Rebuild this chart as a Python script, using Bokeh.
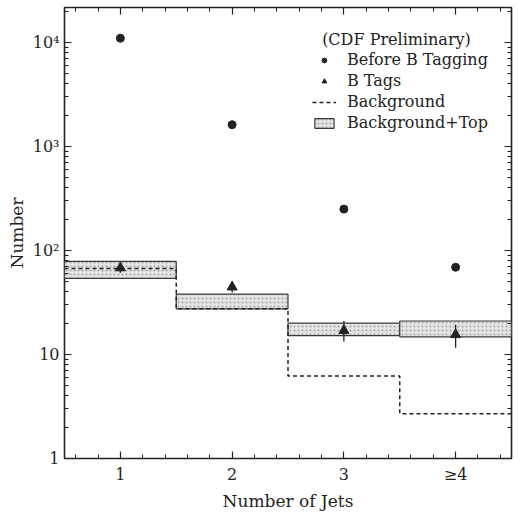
import numpy as np
from bokeh.plotting import figure
from bokeh.models import (FixedTicker, LinearAxis, LogAxis, Range1d, Legend,
                          LegendItem)
from bokeh.embed import file_html
from bokeh.resources import INLINE

# Jet multiplicity bins
jets = [1, 2, 3, 4]
jet_labels = ["1", "2", "3", "\u22654"]
bin_lo = [0.5, 1.5, 2.5, 3.5]
bin_hi = [1.5, 2.5, 3.5, 4.5]

# Events before b-tagging
before_tag = [11000, 1620, 250, 69]

# b-tags with error bars
btags = [68, 44.5, 17, 15.5]
btag_lo = [61, 39.5, 13.3, 11.6]
btag_hi = [77, 51, 21, 19.3]

# Background estimate and background+top band
background = [67, 27.5, 6.2, 2.7]
bkg_top_lo = [54, 27.5, 15.2, 14.8]
bkg_top_hi = [78.5, 38, 20, 21]

# y-axis tick labels
y_ticks = [1, 10, 100, 1000, 10000]
y_tick_labels = ["1", "10", "10\u00b2", "10\u00b3", "10\u2074"]

FONT = "DejaVu Serif"
INK = "#222222"

p = figure(width=522, height=514, output_backend="svg", toolbar_location=None,
           x_range=Range1d(0.5, 4.5), y_range=Range1d(1, 21700),
           y_axis_type="log",
           min_border_left=64, min_border_right=11,
           min_border_top=7, min_border_bottom=56)
p.background_fill_color = "white"
p.border_fill_color = "white"
p.outline_line_color = INK
p.outline_line_width = 1.6
p.grid.visible = False

bottom_axis = p.below[0]
left_axis = p.left[0]

x_minor = [round(v, 2) for v in np.arange(0.6, 4.5, 0.2) if abs(v - round(v)) > 1e-6]
y_minor = [m * 10 ** k for k in range(0, 5) for m in range(2, 10) if m * 10 ** k < 21700]

top_axis = LinearAxis(ticker=FixedTicker(ticks=jets, minor_ticks=x_minor))
right_axis = LogAxis(ticker=FixedTicker(ticks=y_ticks, minor_ticks=y_minor))
p.add_layout(top_axis, "above")
p.add_layout(right_axis, "right")

bottom_axis.ticker = FixedTicker(ticks=jets, minor_ticks=x_minor)
left_axis.ticker = FixedTicker(ticks=y_ticks, minor_ticks=y_minor)

for ax in [bottom_axis, left_axis, top_axis, right_axis]:
    ax.axis_line_color = None
    ax.major_tick_in = 7
    ax.major_tick_out = 0
    ax.minor_tick_in = 4
    ax.minor_tick_out = 0
    ax.major_tick_line_color = INK
    ax.minor_tick_line_color = INK
    ax.major_tick_line_width = 1.2
    ax.minor_tick_line_width = 1
    ax.major_label_text_font = FONT
    ax.major_label_text_color = INK
    ax.major_label_text_font_size = "16px"

for ax in [top_axis, right_axis]:
    ax.major_label_text_color = None
    ax.major_label_text_font_size = "1px"
    ax.major_label_standoff = 0

bottom_axis.major_label_overrides = {j: s for j, s in zip(jets, jet_labels)}
left_axis.major_label_overrides = {t: s for t, s in zip(y_ticks, y_tick_labels)}
bottom_axis.major_label_standoff = 6
left_axis.major_label_standoff = 5

bottom_axis.axis_label = "Number of Jets"
left_axis.axis_label = "Number"
for ax in [bottom_axis, left_axis]:
    ax.axis_label_text_font = FONT
    ax.axis_label_text_font_size = "17px"
    ax.axis_label_text_font_style = "normal"
    ax.axis_label_text_color = INK
bottom_axis.axis_label_standoff = 4
left_axis.axis_label_standoff = 3

# Background+top band
band = p.quad(left=bin_lo, right=bin_hi, bottom=bkg_top_lo, top=bkg_top_hi,
              fill_color="#e4e4e4", line_color="#3a3a3a", line_width=1.2,
              hatch_pattern="dot", hatch_scale=4, hatch_color="#8a8a8a",
              hatch_weight=1, hatch_alpha=0.7)

# Background step line
edges = bin_lo + [bin_hi[-1]]
bkg_step = p.step(x=edges, y=background + [background[-1]], mode="after",
                  line_color=INK, line_width=1.5, line_dash="4 3")

# b-tag error bars and markers
p.segment(x0=jets, x1=jets, y0=btag_lo, y1=btag_hi, line_color=INK, line_width=1.3)
tri = p.scatter(x=jets, y=btags, marker="triangle", size=10,
                fill_color=INK, line_color=INK)

# Events before tagging
circ = p.scatter(x=jets, y=before_tag, marker="circle", size=8,
                 fill_color=INK, line_color=INK)

legend = Legend(items=[
    LegendItem(label="Before B Tagging", renderers=[circ]),
    LegendItem(label="B Tags", renderers=[tri]),
    LegendItem(label="Background", renderers=[bkg_step]),
    LegendItem(label="Background+Top", renderers=[band]),
], location="top_right")
legend.title = "\u00a0\u00a0(CDF Preliminary)"
legend.title_text_font = FONT
legend.title_text_font_size = "16px"
legend.title_text_font_style = "normal"
legend.title_text_color = INK
legend.title_standoff = 0
legend.label_text_font = FONT
legend.label_text_font_size = "16px"
legend.label_text_color = INK
legend.background_fill_alpha = 0
legend.border_line_color = None
legend.padding = 0
legend.margin = 23
legend.spacing = 0
legend.label_height = 21
legend.glyph_height = 12
legend.glyph_width = 24
legend.label_standoff = 11
p.add_layout(legend)

open("out.html", "w").write(file_html(p, INLINE))
